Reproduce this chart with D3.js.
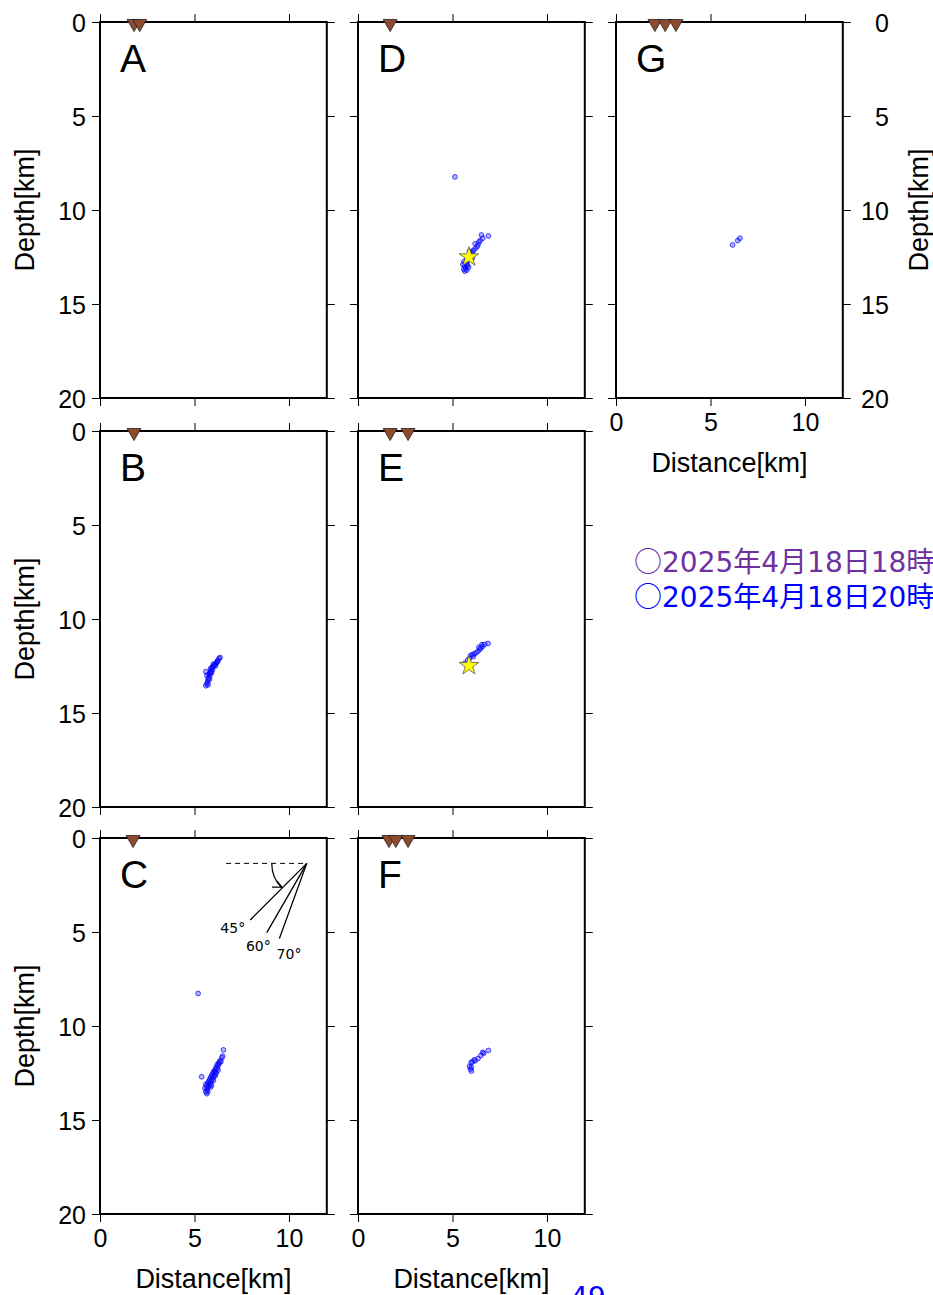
<!DOCTYPE html>
<html><head><meta charset="utf-8">
<script src="https://cdn.jsdelivr.net/npm/d3@7"></script>
<style>
html,body{margin:0;padding:0;background:#fff;overflow:hidden;}
svg{display:block;}
</style></head>
<body>
<script>
// ---------------- DATA ----------------
const panelNames = ["A","B","C","D","E","F","G"];
const xTicks = [0, 5, 10];
const yTicks = [0, 5, 10, 15, 20];
const xLabel = "Distance[km]";
const yLabel = "Depth[km]";
const legendMarks = ["○", "○"];
const legendLines = ["2025年4月18日18時", "2025年4月18日20時"];
const pageNumber = "49";

// stations (distance km) per panel
const stationsA = [1.8, 2.1];
const stationsB = [1.8];
const stationsC = [1.75];
const stationsD = [1.7];
const stationsE = [1.7, 2.65];
const stationsF = [1.64, 2.0, 2.65];
const stationsG = [2.06, 2.6, 3.17];

// hypocentres [distance km, depth km]
const quakesA = [];
const quakesB = [[6.35,12.05],[6.3,12.1],[6.25,12.2],[6.2,12.25],[6.15,12.35],[6.1,12.4],[6.05,12.45],[6.0,12.5],[5.95,12.55],[5.9,12.6],[5.85,12.65],[5.95,12.7],[5.9,12.75],[5.85,12.8],[5.8,12.9],[5.75,12.95],[5.6,12.8],[5.8,13.05],[5.75,13.15],[5.7,13.25],[5.7,13.35],[5.65,13.45],[5.6,13.55],[5.65,13.0],[5.85,12.9],[6.0,12.4],[6.2,12.3],[6.1,12.5],[5.9,12.85],[5.8,13.2],[5.72,13.5]];
const quakesC = [[6.53,11.27],[6.49,11.6],[6.45,11.68],[6.35,11.85],[6.3,11.95],[6.2,12.05],[6.25,12.1],[6.15,12.2],[6.1,12.3],[6.2,12.25],[6.05,12.4],[6.0,12.45],[6.1,12.45],[5.95,12.55],[6.05,12.6],[5.9,12.65],[6.0,12.7],[5.85,12.75],[5.95,12.8],[5.8,12.85],[5.9,12.9],[5.75,12.95],[5.85,13.0],[5.7,13.05],[5.8,13.1],[5.75,13.2],[5.7,13.3],[5.65,13.4],[5.7,13.5],[5.65,13.6],[5.38,12.7],[6.3,12.0],[6.4,11.9],[5.19,8.27],[6.15,12.5],[6.1,12.65],[5.6,13.1],[5.65,13.2],[5.85,13.25],[6.0,12.9],[5.55,13.3],[6.25,12.35],[5.9,13.15],[5.6,13.5]];
const quakesD = [[5.13,8.24],[6.9,11.38],[6.53,11.33],[6.46,11.63],[6.4,11.7],[6.35,11.86],[6.3,11.95],[6.19,12.07],[6.1,12.15],[6.05,12.25],[6.0,12.35],[5.95,12.4],[5.85,12.45],[5.75,12.6],[5.8,12.7],[5.7,12.8],[5.75,12.9],[5.65,13.0],[5.7,13.1],[5.75,13.2],[5.65,13.25],[5.6,12.75],[5.9,12.2],[6.2,11.8],[6.6,11.5],[5.55,12.9],[5.8,12.95],[5.6,13.15],[6.05,12.55],[5.85,13.05]];
const quakesE = [[6.88,11.3],[6.56,11.37],[6.5,11.55],[6.35,11.72],[6.15,11.85],[5.95,11.95],[5.8,12.2],[5.65,12.35],[6.6,11.45],[6.45,11.6],[6.25,11.8],[6.05,11.9],[5.9,12.1],[6.7,11.35],[6.4,11.5],[6.1,12.0]];
const quakesF = [[6.9,11.3],[6.6,11.4],[6.5,11.57],[6.35,11.73],[6.2,11.85],[5.98,11.95],[6.05,11.9],[5.9,12.15],[6.0,12.2],[6.0,12.4],[5.95,12.3],[6.65,11.45],[6.15,11.8]];
const quakesG = [[6.44,11.63],[6.56,11.5],[6.17,11.86]];

// main shock star [distance, depth]
const starD = [[5.87,12.5]];
const starE = [[5.87,12.48]];

// dip angle guide (panel C)
const dipAngles = [45, 60, 70];
const dipApex = [10.94, 1.35];
const dipDashStart = 6.67;

// ---------------- LAYOUT ----------------
const W = 933, H = 1295;
const colX = [100, 358, 616];
const rowY = [22, 431, 838];
const pw = 226.8, ph = 376;
const fontMain = "'Liberation Sans', Arial, Helvetica, sans-serif";

const panels = [
  {name:"A", col:0,row:0, st:stationsA, q:quakesA, star:[], left:true},
  {name:"B", col:0,row:1, st:stationsB, q:quakesB, star:[], left:true},
  {name:"C", col:0,row:2, st:stationsC, q:quakesC, star:[], left:true, bottom:true, dip:true},
  {name:"D", col:1,row:0, st:stationsD, q:quakesD, star:starD},
  {name:"E", col:1,row:1, st:stationsE, q:quakesE, star:starE},
  {name:"F", col:1,row:2, st:stationsF, q:quakesF, star:[], bottom:true},
  {name:"G", col:2,row:0, st:stationsG, q:quakesG, star:[], right:true, bottom:true}
];

const svg = d3.select("body").append("svg").attr("width", W).attr("height", H)
  .style("font-family", fontMain);

const tri = d3.symbol().type(d3.symbolTriangle).size(85);
const star = d3.symbol().type(d3.symbolStar).size(120);

panels.forEach(p => {
  const x0 = colX[p.col], y0 = rowY[p.row];
  const g = svg.append("g").attr("transform", `translate(${x0},${y0})`);
  const x = d3.scaleLinear().domain([0, 12]).range([0, pw]);
  const y = d3.scaleLinear().domain([0, 20]).range([0, ph]);

  const mk = (ax, tr, showLabels) => {
    const a = g.append("g").attr("transform", tr).call(ax);
    a.select(".domain").remove();
    a.selectAll(".tick line").attr("stroke", "#000").attr("stroke-width", 1);
    if (!showLabels) a.selectAll(".tick text").remove();
    else a.selectAll(".tick text").attr("font-size", 25).attr("fill", "#000").attr("font-family", fontMain);
    return a;
  };
  mk(d3.axisTop(x).tickValues(xTicks).tickSize(8), "translate(0,0)", false);
  const bx = mk(d3.axisBottom(x).tickValues(xTicks).tickSize(8).tickPadding(5), `translate(0,${ph})`, !!p.bottom);
  const ly = mk(d3.axisLeft(y).tickValues(yTicks).tickSize(8).tickPadding(6), "translate(0,0)", !!p.left);
  const ry = mk(d3.axisRight(y).tickValues(yTicks).tickSize(8).tickPadding(6), `translate(${pw},0)`, !!p.right);
  if (p.left) ly.selectAll(".tick text").attr("dy", "0.36em");
  if (p.right) ry.selectAll(".tick text").attr("text-anchor", "end").attr("x", 46).attr("dy", "0.36em");
  if (p.bottom) bx.selectAll(".tick text").attr("dy", "0.78em");

  const cid = "clip" + p.name;
  g.append("clipPath").attr("id", cid).append("rect").attr("width", pw).attr("height", ph);

  g.append("g").attr("clip-path", `url(#${cid})`).selectAll("circle").data(p.q).enter().append("circle")
    .attr("cx", d => x(d[0])).attr("cy", d => y(d[1])).attr("r", 2.4)
    .attr("fill", "rgba(30,30,255,0.35)").attr("stroke", "#0000ff").attr("stroke-opacity", 0.75).attr("stroke-width", 0.9);

  g.selectAll("path.star").data(p.star).enter().append("path").attr("class","star")
    .attr("d", star).attr("transform", d => `translate(${x(d[0])},${y(d[1])})`)
    .attr("fill", "#ffff00").attr("stroke", "#555").attr("stroke-width", 0.8);

  g.append("rect").attr("width", pw).attr("height", ph).attr("fill", "none")
    .attr("stroke", "#000").attr("stroke-width", 2);

  g.selectAll("path.st").data(p.st).enter().append("path").attr("class","st")
    .attr("d", tri).attr("transform", d => `translate(${x(d)},${y(0)+1.5}) rotate(180)`)
    .attr("fill", "#8e4a2c").attr("stroke", "#222").attr("stroke-width", 0.8);

  g.append("text").attr("x", 20).attr("y", 50).attr("font-size", 39).attr("fill", "#000").text(p.name);

  if (p.bottom) {
    g.append("text").attr("x", pw/2).attr("y", ph + 74).attr("text-anchor", "middle")
      .attr("font-size", 27).text(xLabel);
  }
  if (p.left) {
    g.append("text").attr("transform", `translate(${-66},${ph/2}) rotate(-90)`)
      .attr("text-anchor", "middle").attr("font-size", 27).text(yLabel);
  }
  if (p.right) {
    g.append("text").attr("transform", `translate(${pw + 85},${ph/2}) rotate(-90)`)
      .attr("text-anchor", "middle").attr("font-size", 27).text(yLabel);
  }

  if (p.dip) {
    const ax = x(dipApex[0]), ay = y(dipApex[1]);
    g.append("line").attr("x1", x(dipDashStart)).attr("y1", ay).attr("x2", ax).attr("y2", ay)
      .attr("stroke", "#000").attr("stroke-width", 1).attr("stroke-dasharray", "5,4");
    const len = 80;
    const labOff = {45:[-5,13], 60:[4,18], 70:[22,20]};
    dipAngles.forEach(a => {
      const r = a * Math.PI / 180;
      const ex = ax - len * Math.cos(r), ey = ay + len * Math.sin(r);
      g.append("line").attr("x1", ax).attr("y1", ay).attr("x2", ex).attr("y2", ey)
        .attr("stroke", "#000").attr("stroke-width", 1.3);
      g.append("text").attr("x", ex + labOff[a][0]).attr("y", ey + labOff[a][1])
        .attr("text-anchor", "end").attr("font-size", 14).attr("font-family", "'DejaVu Sans', sans-serif").text(a + "°");
    });
    const R = 35;
    const arc = d3.path();
    arc.arc(ax, ay, R, Math.PI, Math.PI - Math.PI/4, true);
    g.append("path").attr("d", arc.toString()).attr("fill", "none").attr("stroke", "#000").attr("stroke-width", 1.2);
    const ex = ax - R*Math.cos(Math.PI/4), ey = ay + R*Math.sin(Math.PI/4);
    g.append("path").attr("d", `M${ex-10},${ey-1} L${ex},${ey-1} M${ex-5},${ey-7} L${ex},${ey-1}`)
      .attr("fill", "none").attr("stroke", "#000").attr("stroke-width", 1.2);
  }
});

// legend text
const legColors = ["#7030a0", "#0000ff"];
legendLines.forEach((t, i) => {
  const tx = svg.append("text").attr("x", 634).attr("y", 572 + i*35)
    .attr("font-size", 28).attr("fill", legColors[i]);
  tx.append("tspan").attr("font-family", "'Noto Sans CJK JP', sans-serif").text(legendMarks[i]);
  tx.append("tspan").attr("font-family", "'DejaVu Sans', 'Noto Sans CJK JP', sans-serif").text(t);
});

// page number
svg.append("text").attr("x", 588).attr("y", 1307).attr("text-anchor", "middle")
  .attr("font-size", 28).attr("fill", "#0000ff").attr("font-family", "'DejaVu Sans', sans-serif").text(pageNumber);
</script>
</body></html>
